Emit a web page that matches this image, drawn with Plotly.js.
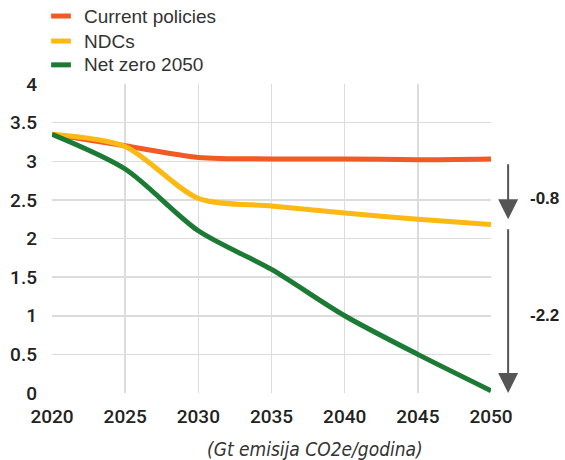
<!DOCTYPE html>
<html>
<head>
<meta charset="utf-8">
<script src="https://cdn.plot.ly/plotly-3.0.1.min.js"></script>
<style>
  html, body { margin: 0; padding: 0; background: #ffffff; }
  #chart { width: 565px; height: 460px; }
</style>
</head>
<body>
<div id="chart"></div>
<script>
// Emission pathways, Gt CO2e per year
const years = [2020, 2025, 2030, 2035, 2040, 2045, 2050];
const currentPolicies = [3.35, 3.20, 3.05, 3.03, 3.03, 3.02, 3.03];
const ndcs = [3.35, 3.19, 2.52, 2.42, 2.33, 2.25, 2.18];
const netZero2050 = [3.35, 2.90, 2.10, 1.60, 1.00, 0.50, 0.03];

const seriesNames = ['Current policies', 'NDCs', 'Net zero 2050'];
const seriesColors = ['#f15a24', '#fdb913', '#1b7a34'];

// Gaps in 2050 shown with arrows on the right
const gapNdcs = { from: 2.98, to: 2.25, label: '-0.8', labelY: 2.52 };
const gapNetZero = { from: 2.14, to: 0.0, label: '-2.2', labelY: 1.0 };

const unitCaption = '(Gt emisija CO2e/godina)';

const tickFamily = 'Roboto, "Liberation Sans", Arial, sans-serif';
const narrow = '"DejaVu Sans Condensed", "DejaVu Sans", sans-serif';
const regular = '"Liberation Sans", Arial, sans-serif';

const traces = [currentPolicies, ndcs, netZero2050].map((vals, i) => ({
  type: 'scatter',
  mode: 'lines',
  x: years,
  y: vals,
  name: seriesNames[i],
  line: { color: seriesColors[i], width: 5, shape: 'spline', smoothing: 0.8 },
  hoverinfo: 'skip'
}));

// Legend drawn above the plot: short colour bar plus name per row
const legendRowsY = [1.220, 1.139, 1.062];
const legendShapes = seriesNames.map((n, i) => ({
  type: 'line', xref: 'paper', yref: 'paper',
  x0: -0.002, x1: 0.043, y0: legendRowsY[i], y1: legendRowsY[i],
  line: { color: seriesColors[i], width: 5 }
}));
const legendTexts = seriesNames.map((n, i) => ({
  xref: 'paper', yref: 'paper',
  x: 0.068, y: legendRowsY[i],
  xanchor: 'left', yanchor: 'middle',
  showarrow: false,
  text: n,
  font: { family: regular, size: 19, color: '#333333' }
}));

function gapArrow(g) {
  return {
    xref: 'paper', x: 1.039,
    yref: 'y', y: g.to,
    axref: 'pixel', ax: 0,
    ayref: 'y', ay: g.from,
    showarrow: true,
    arrowhead: 2, arrowsize: 2, arrowwidth: 2,
    arrowcolor: '#555555',
    text: ''
  };
}
function gapLabel(g) {
  return {
    xref: 'paper', x: 1.123,
    yref: 'y', y: g.labelY,
    showarrow: false,
    text: '<b>' + g.label + '</b>',
    font: { family: regular, size: 17, color: '#222222' },
    xanchor: 'center', yanchor: 'middle'
  };
}

const layout = {
  width: 565,
  height: 460,
  margin: { l: 52, r: 74, t: 84, b: 67 },
  paper_bgcolor: '#ffffff',
  plot_bgcolor: '#ffffff',
  showlegend: false,
  xaxis: {
    range: [2020, 2050],
    tick0: 2020, dtick: 5,
    showgrid: true, gridcolor: '#dcdcdc', gridwidth: 1.5,
    zeroline: false, showline: false,
    ticks: '',
    ticklabelstandoff: 10,
    tickfont: { family: tickFamily, size: 19, color: '#222222', weight: 500 }
  },
  yaxis: {
    range: [0, 4],
    tick0: 0, dtick: 0.5,
    showgrid: true, gridcolor: '#dcdcdc', gridwidth: 1.5,
    zeroline: false, showline: false,
    ticks: '',
    ticklabelstandoff: 14,
    tickfont: { family: tickFamily, size: 19, color: '#222222', weight: 500 }
  },
  shapes: legendShapes,
  annotations: legendTexts.concat([
    gapArrow(gapNdcs), gapArrow(gapNetZero),
    gapLabel(gapNdcs), gapLabel(gapNetZero),
    {
      xref: 'paper', x: 0.598,
      yref: 'paper', y: -0.181,
      showarrow: false,
      text: '<i>' + unitCaption + '</i>',
      font: { family: narrow, size: 19, color: '#333333' },
      xanchor: 'center', yanchor: 'middle'
    }
  ])
};

Plotly.newPlot('chart', traces, layout, { staticPlot: true, displayModeBar: false });
</script>
</body>
</html>
